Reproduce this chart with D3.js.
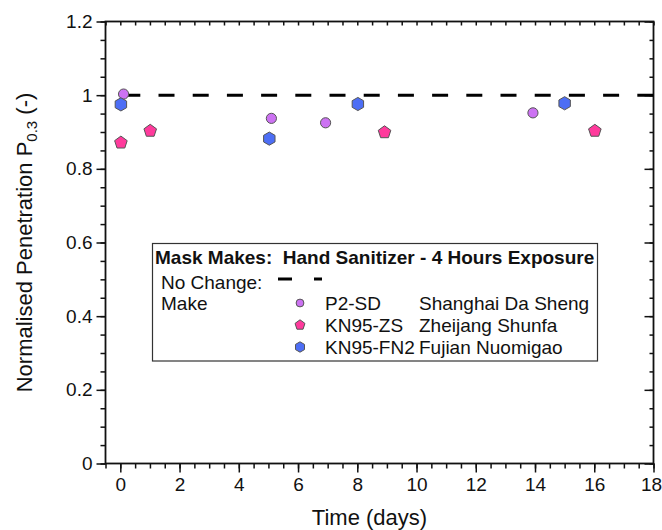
<!DOCTYPE html>
<html>
<head>
<meta charset="utf-8">
<script src="https://cdn.jsdelivr.net/npm/d3@7"></script>
<style>
  body { margin: 0; background: #fff; }
  text { font-family: "Liberation Sans", Arial, sans-serif; fill: #111; white-space: pre; }
</style>
</head>
<body>
<div id="container"></div>
<script>
"use strict";

// Data.
const p2sdDays = [0.11, 5.1, 6.93, 13.93];
const p2sdValues = [1.003, 0.937, 0.925, 0.952];
const kn95zsDays = [0.02, 1.01, 8.92, 16.02];
const kn95zsValues = [0.871, 0.903, 0.899, 0.903];
const kn95fn2Days = [0.02, 5.03, 8.02, 15.0];
const kn95fn2Values = [0.975, 0.882, 0.976, 0.978];
const noChangeDays = [0, 18];
const noChangeValues = [1, 1];
const xTicks = [0, 2, 4, 6, 8, 10, 12, 14, 16, 18];
const yTicks = [0, 0.2, 0.4, 0.6, 0.8, 1, 1.2];

const series = [
  { code: "P2-SD", maker: "Shanghai Da Sheng", days: p2sdDays, values: p2sdValues, shape: "circle", color: "#cc72f2" },
  { code: "KN95-ZS", maker: "Zheijang Shunfa", days: kn95zsDays, values: kn95zsValues, shape: "pentagon", color: "#ff3a9c" },
  { code: "KN95-FN2", maker: "Fujian Nuomigao", days: kn95fn2Days, values: kn95fn2Values, shape: "hexagon", color: "#4d6ef5" }
];

const width = 662, height = 530;
const plotLeft = 105.5, plotRight = 653.5, plotTop = 21.5, plotBottom = 463.5;

const x = d3.scaleLinear().domain([-0.5, 18]).range([plotLeft, plotRight]);
const y = d3.scaleLinear().domain([0, 1.2]).range([plotBottom, plotTop]);

const svg = d3.create("svg").attr("width", width).attr("height", height);

// Regular polygon path, pointing up.
function polygon(n, r) {
  const pts = d3.range(n).map((i) => {
    const a = -Math.PI / 2 + (i * 2 * Math.PI) / n;
    return [r * Math.cos(a), r * Math.sin(a)];
  });
  return "M" + pts.map((p) => p.join(",")).join("L") + "Z";
}
function markerPath(shape, size) {
  if (shape === "circle") return d3.symbol(d3.symbolCircle, Math.PI * size * size * 0.72)();
  if (shape === "pentagon") return polygon(5, size);
  return polygon(6, size);
}

const xMinor = d3.range(-0.5, 18.01, 0.5);
const yMinor = d3.range(0, 1.201, 0.05);
const tickStroke = "#111";

// Bottom axis (ticks outside).
svg.append("g")
  .attr("transform", `translate(0,${plotBottom})`)
  .call(d3.axisBottom(x).tickValues(xMinor).tickSize(5).tickFormat(""))
  .call((g) => g.select(".domain").remove())
  .selectAll("line").attr("stroke", tickStroke).attr("stroke-width", 1.5);
svg.append("g")
  .attr("transform", `translate(0,${plotBottom})`)
  .call(d3.axisBottom(x).tickValues(xTicks).tickSize(9).tickPadding(5).tickFormat(d3.format("d")))
  .call((g) => g.select(".domain").remove())
  .call((g) => g.selectAll("line").attr("stroke", tickStroke).attr("stroke-width", 1.5))
  .call((g) => g.selectAll("text").style("font-size", "19px").attr("fill", "#111")
    .attr("dx", (d) => (d === 18 ? -2.5 : 0)));

// Left axis (ticks outside).
svg.append("g")
  .attr("transform", `translate(${plotLeft},0)`)
  .call(d3.axisLeft(y).tickValues(yMinor).tickSize(5).tickFormat(""))
  .call((g) => g.select(".domain").remove())
  .selectAll("line").attr("stroke", tickStroke).attr("stroke-width", 1.5);
svg.append("g")
  .attr("transform", `translate(${plotLeft},0)`)
  .call(d3.axisLeft(y).tickValues(yTicks).tickSize(9).tickPadding(4).tickFormat((d) => String(+d.toFixed(1))))
  .call((g) => g.select(".domain").remove())
  .call((g) => g.selectAll("line").attr("stroke", tickStroke).attr("stroke-width", 1.5))
  .call((g) => g.selectAll("text").style("font-size", "19px").attr("fill", "#111"));

// Top and right axes (ticks inside).
svg.append("g")
  .attr("transform", `translate(0,${plotTop})`)
  .call(d3.axisBottom(x).tickValues(xMinor).tickSize(4).tickFormat(""))
  .call((g) => g.select(".domain").remove())
  .selectAll("line").attr("stroke", tickStroke).attr("stroke-width", 1.5);
svg.append("g")
  .attr("transform", `translate(${plotRight},0)`)
  .call(d3.axisLeft(y).tickValues(yMinor).tickSize(4).tickFormat(""))
  .call((g) => g.select(".domain").remove())
  .selectAll("line").attr("stroke", tickStroke).attr("stroke-width", 1.5);
svg.append("g")
  .attr("transform", `translate(${plotRight},0)`)
  .call(d3.axisLeft(y).tickValues(yTicks).tickSize(9).tickFormat(""))
  .call((g) => g.select(".domain").remove())
  .selectAll("line").attr("stroke", tickStroke).attr("stroke-width", 1.5);

// Frame.
svg.append("rect")
  .attr("x", plotLeft).attr("y", plotTop)
  .attr("width", plotRight - plotLeft).attr("height", plotBottom - plotTop)
  .attr("fill", "none").attr("stroke", "#111").attr("stroke-width", 1.8);

// No change reference line.
svg.append("path")
  .datum(noChangeDays.map((d, i) => [d, noChangeValues[i]]))
  .attr("d", d3.line().x((d) => x(d[0])).y((d) => y(d[1])))
  .attr("fill", "none").attr("stroke", "#000").attr("stroke-width", 3)
  .attr("stroke-dasharray", "16 18.2").attr("stroke-dashoffset", -4);

// Markers.
series.forEach((s) => {
  svg.append("g").selectAll("path")
    .data(s.days.map((d, i) => [d, s.values[i]]))
    .join("path")
    .attr("transform", (d) => `translate(${x(d[0])},${y(d[1])})`)
    .attr("d", markerPath(s.shape, s.shape === "circle" ? 6 : 6.6))
    .attr("fill", s.color).attr("stroke", "#555").attr("stroke-width", 1);
});

// Axis titles.
svg.append("text")
  .attr("x", (plotLeft + plotRight) / 2 - 10).attr("y", 525)
  .attr("text-anchor", "middle").style("font-size", "22px")
  .text("Time (days)");
const yTitle = svg.append("text")
  .attr("transform", `translate(32,${(plotTop + plotBottom) / 2}) rotate(-90)`)
  .attr("text-anchor", "middle").style("font-size", "22px");
yTitle.append("tspan").text("Normalised Penetration P");
yTitle.append("tspan").attr("dy", 5).style("font-size", "15px").text("0.3");
yTitle.append("tspan").attr("dy", -5).text(" (-)");

// Legend.
const lg = svg.append("g");
lg.append("rect")
  .attr("x", 152.5).attr("y", 243.5).attr("width", 445).attr("height", 117.5)
  .attr("fill", "#fff").attr("stroke", "#333").attr("stroke-width", 1.2);
lg.append("text").attr("x", 155).attr("y", 264)
  .style("font-size", "19px").style("font-weight", "bold")
  .text("Mask Makes:  Hand Sanitizer - 4 Hours Exposure");
lg.append("text").attr("x", 161).attr("y", 289).style("font-size", "19px").text("No Change:");
lg.append("line")
  .attr("x1", 278).attr("x2", 322).attr("y1", 279).attr("y2", 279)
  .attr("stroke", "#000").attr("stroke-width", 3).attr("stroke-dasharray", "14 22");
lg.append("text").attr("x", 161).attr("y", 310).style("font-size", "19px").text("Make");
series.forEach((s, i) => {
  const yy = 303 + i * 22;
  lg.append("path")
    .attr("transform", `translate(300,${yy})`)
    .attr("d", markerPath(s.shape, s.shape === "circle" ? 4.6 : 5.2))
    .attr("fill", s.color).attr("stroke", "#555").attr("stroke-width", 1);
  lg.append("text").attr("x", 325).attr("y", yy + 7).style("font-size", "19px").text(s.code);
  lg.append("text").attr("x", 419).attr("y", yy + 7).style("font-size", "19px").text(s.maker);
});

d3.select("#container").append(() => svg.node());
</script>
</body>
</html>
